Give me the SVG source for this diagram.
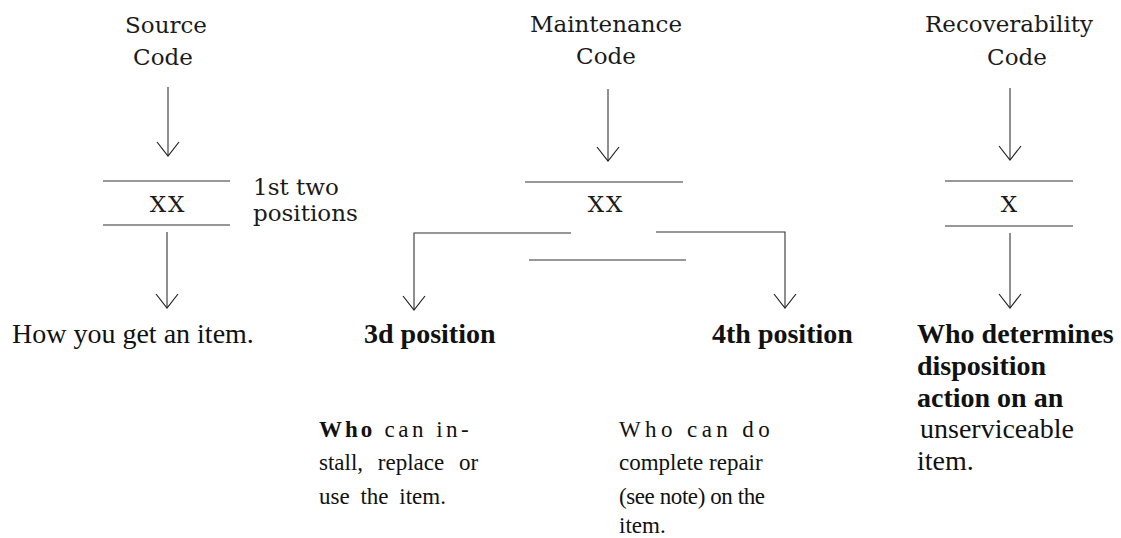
<svg xmlns="http://www.w3.org/2000/svg" width="1121" height="538" viewBox="0 0 1121 538">
<defs>
<style>
.t{font-family:"DejaVu Serif","Liberation Serif",serif;font-size:23px;fill:#1a1a1a}
.c{text-anchor:middle}
.h{font-family:"Liberation Serif",serif;font-size:28px;fill:#111}
.b{font-weight:bold}
.p{font-family:"Liberation Serif",serif;font-size:23px;fill:#111}
.ln{stroke:#333;stroke-width:1.1;fill:none}
.cn{stroke:#333;stroke-width:1.1;fill:none;marker-end:url(#v)}
</style>
<marker id="v" markerUnits="userSpaceOnUse" markerWidth="20" markerHeight="26" refX="15" refY="11" orient="auto" overflow="visible">
<path d="M1,0 L15,11 L1,22" fill="none" stroke="#222" stroke-width="1.2"/>
</marker>
</defs>
<rect width="1121" height="538" fill="#fff"/>
<g id="source">
<text class="t c" x="166" y="33">Source</text>
<text class="t c" x="163" y="65">Code</text>
<line class="ln" x1="103" y1="181" x2="230" y2="181"/>
<line class="ln" x1="103" y1="225" x2="230" y2="225"/>
<text class="t c" x="168" y="212" letter-spacing="2">XX</text>
<text class="t" x="253" y="195">1st two</text>
<text class="t" x="253" y="221">positions</text>
<text class="h" x="12" y="343">How you get an item.</text>
</g>
<g id="maintenance">
<text class="t c" x="606" y="32">Maintenance</text>
<text class="t c" x="606" y="64">Code</text>
<line class="ln" x1="525" y1="182" x2="683" y2="182"/>
<line class="ln" x1="529" y1="260" x2="686" y2="260"/>
<text class="t c" x="606" y="212" letter-spacing="2">XX</text>
<text class="h b" x="364" y="343">3d position</text>
<text class="h b" x="712" y="343">4th position</text>
<text class="p" x="319" y="437"><tspan font-weight="bold" letter-spacing="3">Who</tspan><tspan letter-spacing="3.5"> can in-</tspan></text>
<text class="p" x="319" y="470" word-spacing="9">stall, replace or</text>
<text class="p" x="319" y="504" word-spacing="5">use the item.</text>
<text class="p" x="619" y="437" letter-spacing="4.4">Who can do</text>
<text class="p" x="619" y="470">complete repair</text>
<text class="p" x="619" y="504" textLength="146" lengthAdjust="spacing">(see note) on the</text>
<text class="p" x="619" y="533">item.</text>
</g>
<g id="recoverability">
<text class="t c" x="1009" y="32">Recoverability</text>
<text class="t c" x="1017" y="65">Code</text>
<line class="ln" x1="945" y1="181" x2="1073" y2="181"/>
<line class="ln" x1="945" y1="226" x2="1073" y2="226"/>
<text class="t c" x="1009" y="212">X</text>
<text class="h b" x="917" y="343">Who determines</text>
<text class="h b" x="917" y="375">disposition</text>
<text class="h b" x="917" y="407">action on an</text>
<text class="h" x="920" y="438">unserviceable</text>
<text class="h" x="917" y="470">item.</text>
</g>
<g id="connectors">
<line class="cn" x1="168" y1="87" x2="168" y2="156"/>
<line class="cn" x1="167" y1="232" x2="167" y2="308"/>
<line class="cn" x1="608" y1="89" x2="608" y2="161"/>
<polyline class="cn" points="571,233 414,233 414,310"/>
<polyline class="cn" points="656,232 785,232 785,308"/>
<line class="cn" x1="1010" y1="88" x2="1010" y2="160"/>
<line class="cn" x1="1010" y1="233" x2="1010" y2="308"/>
</g>
</svg>
